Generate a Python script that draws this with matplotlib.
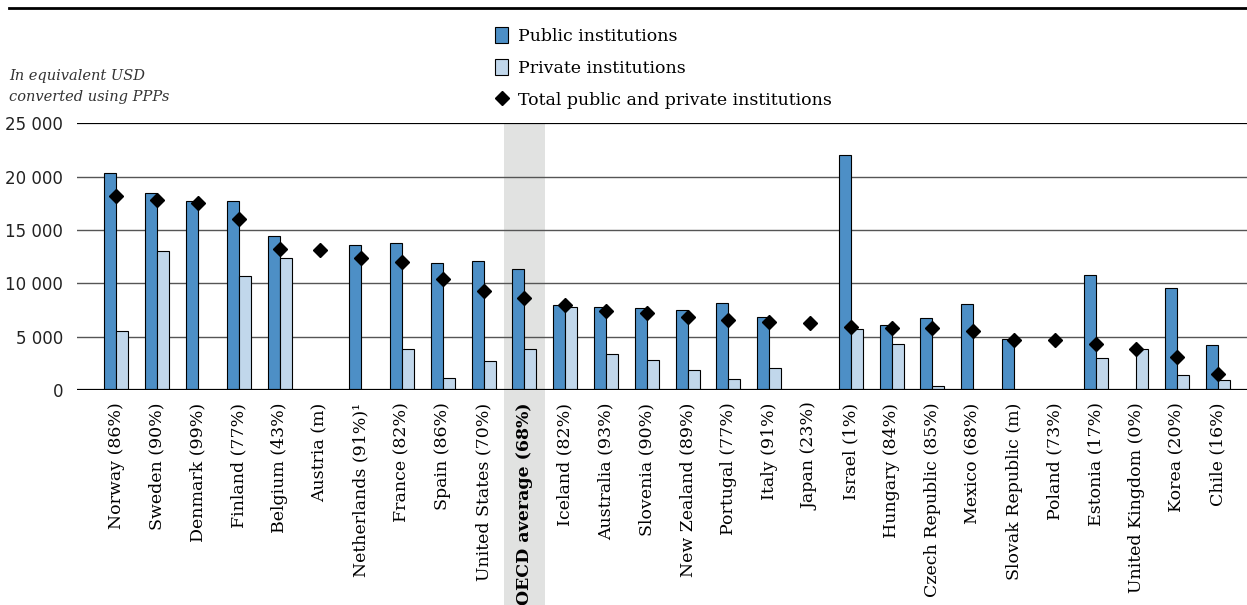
import numpy as np
import matplotlib
matplotlib.use("Agg")
import matplotlib.pyplot as plt
from matplotlib.patches import Patch, Rectangle
from matplotlib.lines import Line2D
import matplotlib.transforms as mtransforms

# values (USD, PPP)
countries = ["Norway (86%)", "Sweden (90%)", "Denmark (99%)", "Finland (77%)",
             "Belgium (43%)", "Austria (m)", "Netherlands (91%)\u00b9", "France (82%)",
             "Spain (86%)", "United States (70%)", "OECD average (68%)", "Iceland (82%)",
             "Australia (93%)", "Slovenia (90%)", "New Zealand (89%)", "Portugal (77%)",
             "Italy (91%)", "Japan (23%)", "Israel (1%)", "Hungary (84%)",
             "Czech Republic (85%)", "Mexico (68%)", "Slovak Republic (m)", "Poland (73%)",
             "Estonia (17%)", "United Kingdom (0%)", "Korea (20%)", "Chile (16%)"]
nan = np.nan
public = [20350, 18440, 17750, 17690, 14410, nan, 13630, 13790,
          11890, 12080, 11360, 7960, 7740, 7680, 7490, 8170,
          6830, nan, 22000, 6120, 6740, 8080, 4740, nan,
          10800, nan, 9550, 4210]
private = [5550, 13040, nan, 10670, 12420, nan, nan, 3870,
           1120, 2720, 3810, 7740, 3340, 2780, 1840, 1030,
           2060, nan, 5710, 4270, 370, nan, nan, nan,
           3000, 3810, 1440, 970]
total = [18220, 17850, 17500, 16000, 13260, 13170, 12390, 12010,
         10360, 9270, 8640, 7960, 7430, 7210, 6860, 6520,
         6400, 6240, 5900, 5830, 5770, 5490, 4710, 4710,
         4310, 3840, 3060, 1500]
yticks = [0, 5000, 10000, 15000, 20000, 25000]
ytick_labels = ["0", "5 000", "10 000", "15 000", "20 000", "25 000"]
oecd_idx = 10

col_public = "#4D8FC6"
col_private = "#C1D7EB"
W, H = 1247, 605

fig = plt.figure(figsize=(W / 100, H / 100), dpi=100)
ax = fig.add_axes([77 / W, (H - 390) / H, 1 - 77 / W, (390 - 123.3) / H])

x = np.arange(len(countries))
bw = 0.294
ax.bar(x - bw / 2, public, width=bw, color=col_public, edgecolor="black", linewidth=0.8, zorder=3)
ax.bar(x + bw / 2, private, width=bw, color=col_private, edgecolor="black", linewidth=0.8, zorder=3)
ax.plot(x, total, linestyle="none", marker="D", markersize=7, color="black", zorder=4)

# grey band behind the OECD average, running down through the labels
trans = mtransforms.blended_transform_factory(ax.transData, ax.transAxes)
ax.add_patch(Rectangle((oecd_idx - 0.5, -0.82), 1.0, 1.82, transform=trans,
                       facecolor="#E1E2E1", edgecolor="none", clip_on=False, zorder=0))

for v in yticks[1:-1]:
    ax.axhline(v, color="#555555", linewidth=1, zorder=1)
ax.axhline(25000, color="black", linewidth=1.6, zorder=1)
ax.axhline(0, color="black", linewidth=1.6, zorder=5)

ax.set_xlim(-0.963, 27.71)
ax.set_ylim(0, 25000)
ax.set_yticks(yticks)
ax.set_yticklabels(ytick_labels, fontsize=12, family="DejaVu Sans", color="#222222")
ax.set_xticks(x)
ax.set_xticklabels(countries, rotation=90, fontsize=12.5, family="DejaVu Serif")
ax.get_xticklabels()[oecd_idx].set_fontweight("bold")
ax.tick_params(axis="both", length=0)
ax.tick_params(axis="y", pad=10)
ax.tick_params(axis="x", pad=9)
for s in ax.spines.values():
    s.set_visible(False)
ax.patch.set_alpha(0)

# line under the (cropped) title
fig.add_artist(Line2D([9 / W, 1], [1 - 7.5 / H, 1 - 7.5 / H], color="black", linewidth=2))

fig.text(9 / W, 1 - 69 / H, "In equivalent USD\nconverted using PPPs", fontsize=10.5,
         style="italic", family="DejaVu Serif", va="top", ha="left", linespacing=1.6,
         color="#333333")

handles = [Patch(facecolor=col_public, edgecolor="black", linewidth=0.8),
           Patch(facecolor=col_private, edgecolor="black", linewidth=0.8),
           Line2D([], [], linestyle="none", marker="D", markersize=7, color="black")]
labels = ["Public institutions", "Private institutions", "Total public and private institutions"]
fig.legend(handles, labels, loc="upper left", bbox_to_anchor=(495 / W, 1 - 27 / H),
           frameon=False, prop={"family": "DejaVu Serif", "size": 12.5},
           handlelength=0.75, handleheight=1.0, handletextpad=0.55,
           labelspacing=0.83, borderpad=0, borderaxespad=0)

fig.savefig("out.png", dpi=100)
